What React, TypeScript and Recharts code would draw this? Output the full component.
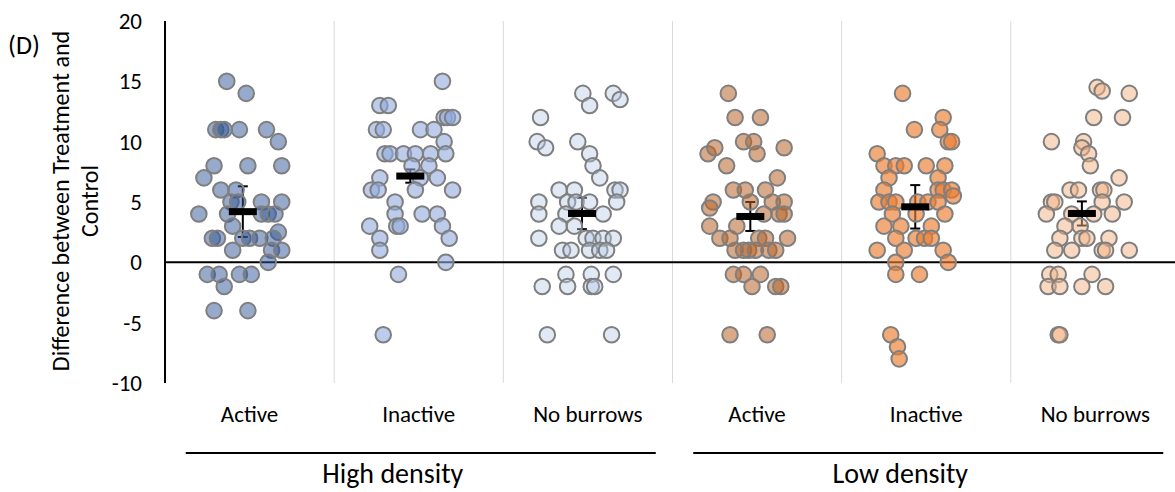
import React from 'react';
import {
  ScatterChart,
  Scatter,
  XAxis,
  YAxis,
  ReferenceLine,
  ErrorBar,
} from 'recharts';

// category names and density groups
const CATEGORIES = ['Active', 'Inactive', 'No burrows', 'Active', 'Inactive', 'No burrows'];
const DENSITIES = ['High density', 'Low density'];
const Y_TICKS = [-10, -5, 0, 5, 10, 15, 20];

// each point: [jitter offset within category, difference value]
const highActive: [number, number][] = [
  [-0.135, 15], [-0.02, 14], [-0.2, 11], [-0.17, 11], [-0.15, 11], [-0.06, 11], [0.1, 11],
  [0.17, 10], [-0.21, 8], [-0.01, 8], [0.19, 8], [-0.27, 7], [-0.17, 6], [-0.08, 6],
  [-0.11, 5], [-0.07, 5], [0.07, 5], [0.19, 5], [-0.3, 4], [-0.13, 4], [0.07, 4], [0.11, 4],
  [0.15, 4], [-0.1, 3], [0.17, 2.5], [-0.22, 2], [-0.19, 2], [-0.04, 2], [0, 2], [0.06, 2],
  [0.14, 2], [-0.1, 1], [0.13, 1], [0.19, 1], [0.11, 0], [-0.25, -1], [-0.18, -1],
  [-0.06, -1], [0.01, -1], [-0.15, -2], [-0.21, -4], [-0.01, -4],
];
const highInactive: [number, number][] = [
  [0.14, 15], [-0.23, 13], [-0.18, 13], [0.15, 12], [0.17, 12], [0.2, 12], [-0.25, 11],
  [-0.21, 11], [0.01, 11], [0.09, 11], [0.15, 10], [-0.2, 9], [-0.17, 9], [-0.09, 9],
  [-0.02, 9], [0.07, 9], [0.16, 9], [0.06, 8], [-0.04, 8], [-0.23, 7], [0.01, 7], [0.11, 7],
  [-0.28, 6], [-0.24, 6], [-0.02, 6], [0.2, 6], [-0.14, 5], [-0.14, 4], [0.02, 4], [0.11, 4],
  [-0.29, 3], [-0.13, 3], [-0.11, 3], [0.14, 3], [-0.23, 2], [0.18, 2], [-0.23, 1], [0.16, 0],
  [-0.12, -1], [-0.21, -6],
];
const highNoBurrows: [number, number][] = [
  [-0.03, 14], [0.15, 14], [0.19, 13.5], [0.01, 13], [-0.28, 12], [-0.3, 10], [-0.25, 9.5],
  [-0.06, 10], [0.01, 9], [0.03, 8], [0.07, 7], [-0.17, 6], [-0.08, 6], [0.16, 6], [0.19, 6],
  [-0.29, 5], [-0.12, 5], [-0.07, 5], [0.01, 5], [0.17, 5], [-0.29, 4], [-0.13, 4], [0.09, 4],
  [-0.17, 3], [-0.08, 3], [-0.29, 2], [-0.01, 2], [0.03, 2], [0.09, 2], [0.15, 2], [-0.15, 1],
  [-0.1, 1], [0.01, 1], [0.07, 1], [0.11, 1], [-0.13, -1], [0.02, -1], [0.15, -1],
  [-0.27, -2], [-0.12, -2], [0.02, -2], [0.04, -2], [-0.24, -6], [0.14, -6],
];
const lowActive: [number, number][] = [
  [-0.17, 14], [-0.13, 12], [0.02, 12], [-0.29, 9], [-0.25, 9.5], [-0.08, 10], [-0.02, 10],
  [0, 9], [0.16, 9.5], [-0.18, 8], [0.12, 7], [-0.14, 6], [-0.07, 6], [0.05, 6], [-0.26, 5],
  [-0.04, 5], [0.09, 5], [0.16, 5], [-0.28, 4.5], [0.04, 4], [0.13, 4], [0.16, 4], [-0.28, 3],
  [-0.12, 3], [-0.22, 2], [-0.16, 2], [0.01, 2], [0.05, 2], [0.18, 2], [-0.13, 1], [-0.08, 1],
  [-0.05, 1], [-0.01, 1], [0.07, 1], [0.11, 1], [-0.14, -1], [-0.08, -1], [0.02, -1],
  [-0.03, -2], [0.11, -2], [0.14, -2], [-0.16, -6], [0.06, -6],
];
const lowInactive: [number, number][] = [
  [-0.14, 14], [0.1, 12], [-0.07, 11], [0.08, 11], [0.13, 10], [0.15, 10], [-0.29, 9],
  [-0.25, 8], [-0.18, 8], [-0.13, 8], [0, 8], [0.11, 8], [-0.22, 7], [0.07, 7], [-0.25, 6],
  [0.07, 6], [0.1, 6], [0.15, 6], [0.16, 5.5], [-0.28, 5], [-0.22, 5], [-0.18, 5], [-0.05, 5],
  [0.01, 5], [0.07, 5], [-0.2, 4], [-0.06, 4], [0.11, 4], [-0.25, 3], [-0.15, 3], [0.03, 3],
  [-0.18, 2], [-0.06, 2], [-0.01, 2], [0.03, 2], [-0.29, 1], [-0.13, 1], [0.1, 1], [-0.18, 0],
  [0.13, 0], [-0.18, -1], [-0.04, -1], [-0.21, -6], [-0.17, -7], [-0.16, -8],
];
const lowNoBurrows: [number, number][] = [
  [0.01, 14.5], [0.04, 14.2], [0.2, 14], [-0.01, 12], [0.16, 12], [-0.26, 10], [-0.07, 10],
  [-0.08, 9.5], [-0.04, 9], [-0.03, 8], [0.14, 7], [-0.15, 6], [-0.1, 6], [0.03, 6], [0.05, 6],
  [-0.26, 5], [-0.24, 5], [0.04, 5], [0.17, 5], [-0.29, 4], [-0.14, 4], [-0.01, 4], [0.1, 4],
  [-0.18, 3], [-0.09, 3], [-0.21, 2], [-0.08, 2], [-0.05, 2], [0.08, 2], [-0.24, 1],
  [-0.14, 1], [0.04, 1], [0.06, 1], [0.2, 1], [-0.27, -1], [-0.22, -1], [-0.02, -1],
  [-0.28, -2], [-0.21, -2], [-0.08, -2], [0.06, -2], [-0.22, -6], [-0.21, -6],
];

// group means and their error (SE)
const meanOffsets = [-0.04, -0.05, -0.035, -0.04, -0.065, -0.08];
const meanValues = [4.2, 7.15, 4.05, 3.8, 4.6, 4.05];
const meanErrors = [2.1, 0.55, 1.3, 1.2, 1.8, 1.0];

const SERIES = [
  { name: 'highActive', points: highActive, fill: '#2f5597', opacity: 0.5 },
  { name: 'highInactive', points: highInactive, fill: '#8faadc', opacity: 0.6 },
  { name: 'highNoBurrows', points: highNoBurrows, fill: '#b4c7e7', opacity: 0.4 },
  { name: 'lowActive', points: lowActive, fill: '#b8642a', opacity: 0.55 },
  { name: 'lowInactive', points: lowInactive, fill: '#ed7d31', opacity: 0.65 },
  { name: 'lowNoBurrows', points: lowNoBurrows, fill: '#f4b183', opacity: 0.5 },
];

const FONT = 'Carlito, Lato, "Open Sans", sans-serif';

function CategoryTick(props: any) {
  const { x, y, payload } = props;
  const i = payload.value - 1;
  const isMid = i === 1 || i === 4;
  return (
    <g>
      <text x={x} y={y + 39} textAnchor="middle" fontSize={23} fill="#000">
        {CATEGORIES[i]}
      </text>
      {isMid && (
        <g>
          <line x1={x - 233} x2={x + 237} y1={y + 70} y2={y + 70} stroke="#000" strokeWidth={2} />
          <text x={x - 26} y={y + 100} textAnchor="middle" fontSize={28} fill="#000">
            {DENSITIES[i === 1 ? 0 : 1]}
          </text>
        </g>
      )}
    </g>
  );
}

function YLabel() {
  return (
    <g fill="#000">
      <text x={8} y={54} fontSize={26}>(D)</text>
      <text
        transform="translate(60,201) rotate(-90)"
        textAnchor="middle"
        dominantBaseline="central"
        fontSize={24}
      >
        Difference between Treatment and
      </text>
      <text
        transform="translate(89,201) rotate(-90)"
        textAnchor="middle"
        dominantBaseline="central"
        fontSize={24}
      >
        Control
      </text>
    </g>
  );
}

export default function App() {
  const means = meanValues.map((v, i) => ({
    x: i + 1 + meanOffsets[i],
    y: v,
    err: meanErrors[i],
  }));

  return (
    <div
      style={{
        position: 'absolute',
        left: 0,
        top: 0,
        width: 1175,
        height: 492,
        overflow: 'hidden',
        background: '#fff',
        fontFamily: FONT,
      }}
    >
      <ScatterChart width={1185} height={492} margin={{ top: 21, right: 5, bottom: 0, left: 0 }}>
        <XAxis
          type="number"
          dataKey="x"
          domain={[0.5, 6.5]}
          ticks={[1, 2, 3, 4, 5, 6]}
          interval={0}
          axisLine={false}
          tickLine={false}
          tickSize={0}
          tickMargin={0}
          height={109}
          tick={(p: any) => <CategoryTick {...p} />}
          allowDataOverflow
        />
        <YAxis
          type="number"
          dataKey="y"
          domain={[-10, 20]}
          ticks={Y_TICKS}
          interval={0}
          width={165}
          tickLine={false}
          tickSize={0}
          tickMargin={23}
          axisLine={{ stroke: '#000', strokeWidth: 2 }}
          tick={{ fill: '#000', fontSize: 23 }}
          label={<YLabel />}
        />
        {[1.5, 2.5, 3.5, 4.5, 5.5].map((b) => (
          <ReferenceLine key={b} x={b} stroke="#d9d9d9" strokeWidth={1} />
        ))}
        <ReferenceLine y={0} stroke="#000" strokeWidth={2} />
        {SERIES.map((s, gi) => (
          <Scatter
            key={s.name}
            name={s.name}
            data={s.points.map(([off, v]) => ({ x: gi + 1 + off, y: v }))}
            isAnimationActive={false}
            shape={(p: any) => (
              <circle
                cx={p.cx}
                cy={p.cy}
                r={7.8}
                fill={s.fill}
                fillOpacity={s.opacity}
                stroke="#7f7f7f"
                strokeWidth={2}
              />
            )}
          />
        ))}
        <Scatter
          name="means"
          data={means}
          isAnimationActive={false}
          shape={(p: any) => (
            <rect x={p.cx - 14} y={p.cy - 3.5} width={28} height={7} fill="#000" />
          )}
        >
          <ErrorBar dataKey="err" direction="y" width={5} stroke="#000" strokeWidth={2} />
        </Scatter>
      </ScatterChart>
    </div>
  );
}
